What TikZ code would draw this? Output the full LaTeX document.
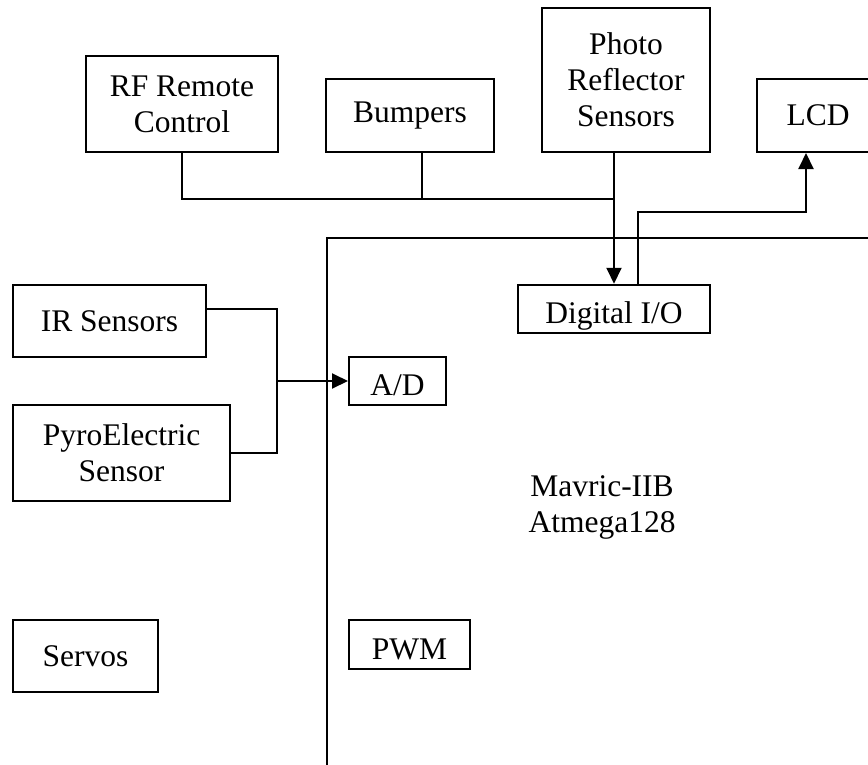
\documentclass[tikz,border=0pt]{standalone}
\usepackage{fontspec}
\setmainfont{Liberation Serif}
\usetikzlibrary{arrows.meta}
\newcommand\boxfont{\fontsize{31.5}{36}\selectfont}

\begin{document}
\begin{tikzpicture}[
  x=1pt, y=-1pt,
  >={Triangle[length=16pt,width=15pt]},
  line width=2pt,
  every node/.style={align=center, inner sep=0pt, font=\boxfont},
  unit/.style={draw},
  port/.style={draw, text height=29pt, text depth=0pt}
]
\useasboundingbox (0,0) rectangle (868,764);
\clip (0,0) rectangle (868,764);

\node (rf) [unit, minimum width=192pt, minimum height=96pt] at (182,104) {RF Remote\\Control};
\node (bumpers) [unit, minimum width=168pt, minimum height=73pt] at (410,115.5) {Bumpers};
\node (photo) [unit, minimum width=168pt, minimum height=144pt] at (626,80) {Photo\\Reflector\\Sensors};
\node (lcd) [unit, minimum width=122pt, minimum height=73pt] at (818,115.5) {LCD};
\node (ir) [unit, minimum width=193pt, minimum height=72pt] at (109.5,321) {IR Sensors};
\node (pyro) [unit, minimum width=217pt, minimum height=96pt] at (121.5,452.5) {PyroElectric\\Sensor};
\node (servos) [unit, minimum width=145pt, minimum height=72pt] at (85.5,656) {Servos};

\node (chip) [draw, anchor=north west, minimum width=700pt, minimum height=700pt] at (326,237) {};
\node (mavric) at (602,507) {Mavric-IIB\\Atmega128};
\node (dio) [port, minimum width=192pt, minimum height=48.5pt] at (614,309) {Digital I/O};
\node (ad) [port, minimum width=97pt, minimum height=47.5pt] at (397.5,381) {A/D};
\node (pwm) [port, minimum width=121pt, minimum height=48.5pt] at (409.5,644.5) {PWM};

\coordinate (bus) at (614,199);
\coordinate (join) at (277,381);

\draw (rf.south) |- (bus);
\draw ([xshift=12pt]bumpers.south) -- ([xshift=12pt]bumpers.south |- bus);
\draw[->] (photo.south -| dio.north) -- (dio.north);
\draw[->] ([xshift=24pt]dio.north) -- ++(0,-72) -| ([xshift=-12pt]lcd.south);
\draw ([yshift=12.5pt]ir.east) -| (join);
\draw (pyro.east) -| (join);
\draw[->] (join) -- (ad.west);
\end{tikzpicture}
\end{document}
